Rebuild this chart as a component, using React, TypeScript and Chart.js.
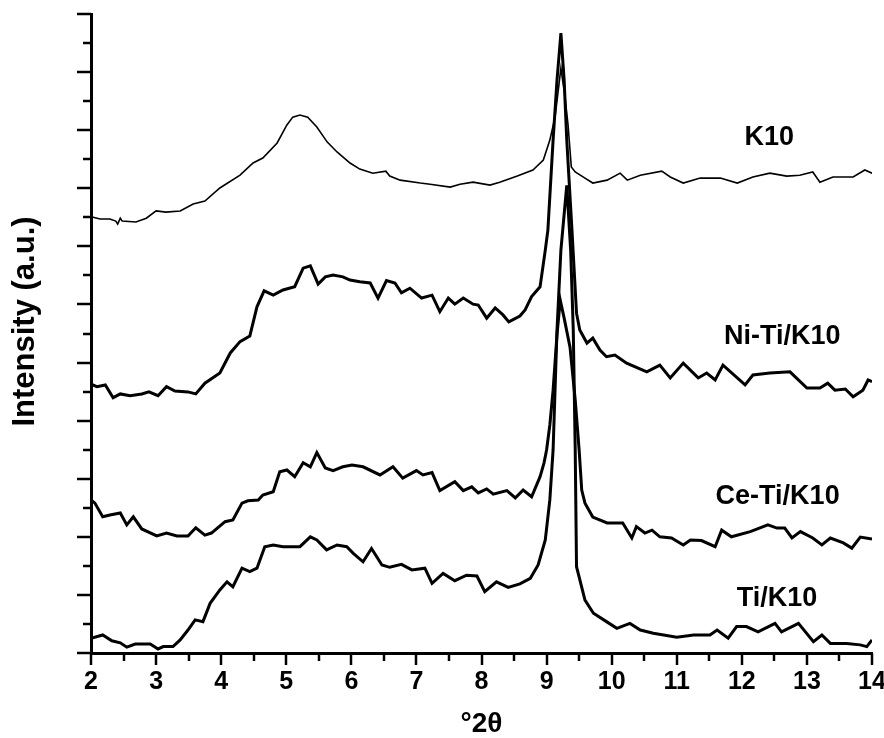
import React, { useEffect, useRef } from 'react';
import { Chart, registerables } from 'chart.js';

Chart.register(...registerables);

// ---- data (°2θ vs. stacked intensity, a.u.) ----
const k10X = [2.00,2.14,2.29,2.38,2.41,2.45,2.48,2.69,2.85,3.00,3.15,3.37,3.57,3.75,3.98,4.29,4.49,4.64,4.86,5.01,5.10,5.21,5.33,5.47,5.63,5.78,5.98,6.13,6.33,6.53,6.59,6.75,7.06,7.21,7.52,7.67,7.87,8.13,8.28,8.55,8.79,8.95,9.05,9.13,9.18,9.22,9.28,9.33,9.38,9.44,9.59,9.71,9.93,10.13,10.24,10.44,10.77,10.90,11.10,11.36,11.67,11.93,12.17,12.43,12.69,12.89,13.09,13.20,13.40,13.71,13.89,14.00];
const k10Y = [15.02,14.94,14.94,14.87,14.77,14.97,14.87,14.84,14.97,15.22,15.18,15.22,15.46,15.56,16.01,16.45,16.87,17.04,17.56,18.18,18.45,18.52,18.45,18.11,17.59,17.25,16.87,16.66,16.52,16.59,16.42,16.28,16.18,16.14,16.04,16.14,16.21,16.11,16.21,16.42,16.63,16.97,17.66,18.45,19.38,20.14,19.21,18.18,16.73,16.56,16.35,16.18,16.28,16.52,16.28,16.45,16.59,16.39,16.18,16.35,16.35,16.18,16.39,16.52,16.42,16.45,16.56,16.21,16.39,16.39,16.63,16.52];

const niTiX = [2.00,2.09,2.22,2.34,2.45,2.60,2.78,2.89,3.03,3.16,3.29,3.49,3.61,3.75,3.98,4.14,4.29,4.44,4.55,4.66,4.80,4.95,5.13,5.26,5.37,5.49,5.60,5.72,5.87,5.98,6.13,6.29,6.41,6.54,6.67,6.77,6.90,7.08,7.24,7.36,7.49,7.59,7.72,7.87,7.95,8.08,8.21,8.33,8.42,8.59,8.67,8.77,8.90,8.98,9.02,9.10,9.16,9.22,9.27,9.31,9.39,9.46,9.51,9.62,9.71,9.82,9.92,10.05,10.23,10.54,10.74,10.90,11.10,11.33,11.46,11.59,11.71,12.05,12.17,12.43,12.74,13.00,13.20,13.32,13.43,13.59,13.71,13.86,13.94,14.00];
const niTiY = [9.26,9.17,9.23,8.79,8.92,8.86,8.92,8.99,8.86,9.17,9.02,8.99,8.92,9.29,9.64,10.33,10.72,10.91,11.92,12.47,12.32,12.50,12.61,13.25,13.33,12.70,12.95,13.01,12.95,12.84,12.78,12.74,12.22,12.82,12.74,12.40,12.56,12.22,12.32,11.75,12.22,12.01,12.22,12.01,11.98,11.53,11.88,11.64,11.40,11.60,11.81,12.27,12.61,13.87,14.56,17.66,19.72,21.34,19.72,17.66,14.56,11.70,11.12,10.67,10.84,10.43,10.20,10.26,9.98,9.68,9.91,9.47,9.98,9.47,9.64,9.40,9.91,9.23,9.57,9.64,9.68,9.12,9.12,9.29,9.05,9.09,8.82,9.05,9.40,9.34];

const ceTiX = [2.00,2.06,2.18,2.29,2.45,2.55,2.65,2.78,3.01,3.16,3.32,3.49,3.61,3.75,3.85,4.06,4.18,4.32,4.41,4.57,4.64,4.80,4.90,5.01,5.13,5.26,5.37,5.47,5.60,5.72,5.87,6.01,6.18,6.44,6.64,6.79,7.00,7.10,7.24,7.36,7.59,7.72,7.85,7.95,8.08,8.18,8.39,8.52,8.64,8.77,8.90,8.96,9.00,9.05,9.10,9.16,9.21,9.27,9.36,9.44,9.50,9.54,9.59,9.71,9.93,10.17,10.31,10.38,10.51,10.62,10.74,10.92,11.10,11.21,11.38,11.59,11.69,11.84,12.13,12.40,12.54,12.66,12.77,12.90,13.09,13.23,13.36,13.56,13.69,13.82,14.00];
const ceTiY = [5.27,5.16,4.69,4.75,4.82,4.41,4.69,4.27,4.03,4.13,4.03,4.03,4.31,4.06,4.13,4.52,4.58,5.16,5.24,5.27,5.44,5.55,6.24,6.30,6.07,6.55,6.41,6.90,6.37,6.28,6.41,6.47,6.41,6.13,6.41,6.02,6.28,6.13,6.21,5.59,5.90,5.59,5.72,5.51,5.65,5.47,5.59,5.34,5.61,5.38,6.07,6.54,6.99,7.85,9.05,10.95,12.15,11.53,10.53,8.71,6.99,5.61,5.16,4.68,4.48,4.48,3.96,4.35,4.13,4.23,4.00,3.96,3.72,3.89,3.87,3.66,4.23,4.00,4.18,4.41,4.30,4.30,3.96,4.18,3.96,3.72,3.96,3.79,3.61,3.99,3.92];

const tiX = [2.00,2.18,2.32,2.45,2.55,2.68,2.91,3.03,3.11,3.26,3.37,3.49,3.60,3.72,3.83,3.98,4.09,4.18,4.32,4.44,4.55,4.67,4.80,4.95,5.21,5.37,5.47,5.62,5.78,5.93,6.03,6.18,6.31,6.47,6.59,6.77,6.93,7.13,7.24,7.41,7.59,7.77,7.93,8.05,8.23,8.41,8.59,8.75,8.87,8.98,9.05,9.10,9.16,9.22,9.31,9.37,9.41,9.44,9.46,9.59,9.72,9.92,10.08,10.28,10.44,10.64,11.00,11.26,11.51,11.62,11.79,11.92,12.07,12.25,12.51,12.61,12.87,13.10,13.23,13.36,13.61,13.82,13.92,14.00];
const tiY = [0.51,0.62,0.42,0.35,0.20,0.31,0.31,0.14,0.22,0.22,0.45,0.79,1.14,1.08,1.71,2.17,2.45,2.28,2.92,2.80,2.92,3.66,3.72,3.66,3.66,4.00,3.89,3.55,3.72,3.66,3.43,3.14,3.60,3.03,2.95,3.05,2.86,2.92,2.40,2.74,2.49,2.68,2.65,2.11,2.45,2.26,2.38,2.57,3.03,3.89,5.27,6.99,11.12,13.87,16.10,13.87,11.12,6.99,2.97,1.82,1.37,1.08,0.85,1.02,0.79,0.68,0.54,0.62,0.62,0.79,0.51,0.91,0.91,0.73,1.02,0.73,1.02,0.39,0.62,0.33,0.33,0.28,0.22,0.45];

const sampleNames = ['K10', 'Ni-Ti/K10', 'Ce-Ti/K10', 'Ti/K10'];
const labelX = [12.42, 12.62, 12.55, 12.54];
const labelY = [17.73, 10.89, 5.38, 1.86];

const xMin = 2;
const xMax = 14;
const yMin = 0;
const yMax = 22;
const xTitle = '°2θ';
const yTitle = 'Intensity (a.u.)';

const FONT = '"Liberation Sans", Arial, Helvetica, sans-serif';

const toPoints = (xs: number[], ys: number[]) => xs.map((x, i) => ({ x, y: ys[i] }));

const tickMarks = {
  id: 'tickMarks',
  afterDraw(chart: any) {
    const { ctx, chartArea, scales } = chart;
    const xs = scales.x;
    const ys = scales.y;
    ctx.save();
    ctx.strokeStyle = '#000';
    ctx.lineWidth = 2.5;
    for (let i = 0; i <= (xMax - xMin) * 2; i++) {
      const v = xMin + i * 0.5;
      const px = Math.round(xs.getPixelForValue(v));
      const major = i % 2 === 0;
      ctx.beginPath();
      ctx.moveTo(px, chartArea.bottom);
      ctx.lineTo(px, chartArea.bottom + (major ? 12 : 8));
      ctx.stroke();
    }
    for (let v = yMin; v <= yMax; v++) {
      const py = Math.round(ys.getPixelForValue(v));
      const major = v % 2 === 0;
      ctx.beginPath();
      ctx.moveTo(chartArea.left, py);
      ctx.lineTo(chartArea.left - (major ? 14 : 8), py);
      ctx.stroke();
    }
    ctx.restore();
  },
};

const textLayer = {
  id: 'textLayer',
  afterDraw(chart: any) {
    const { ctx, scales, chartArea } = chart;
    ctx.save();
    ctx.fillStyle = '#000';
    ctx.textAlign = 'center';
    ctx.textBaseline = 'middle';
    ctx.font = `bold 27px ${FONT}`;
    sampleNames.forEach((name, i) => {
      ctx.fillText(name, scales.x.getPixelForValue(labelX[i]), scales.y.getPixelForValue(labelY[i]));
    });
    // y axis title
    ctx.font = `bold 31px ${FONT}`;
    ctx.translate(25, (chartArea.top + chartArea.bottom) / 2 - 12);
    ctx.rotate(-Math.PI / 2);
    ctx.fillText(yTitle, 0, 0);
    ctx.restore();
  },
};

export default function App() {
  const canvasRef = useRef<HTMLCanvasElement | null>(null);

  useEffect(() => {
    const canvas = canvasRef.current;
    if (!canvas) return;
    Chart.defaults.font.family = FONT;
    const lineStyle = (w: number) => ({
      borderColor: '#000',
      borderWidth: w,
      pointRadius: 0,
      tension: 0,
      fill: false,
    });
    const chart = new Chart(canvas, {
      type: 'line',
      data: {
        datasets: [
          { label: sampleNames[0], data: toPoints(k10X, k10Y), ...lineStyle(1.6) },
          { label: sampleNames[1], data: toPoints(niTiX, niTiY), ...lineStyle(3) },
          { label: sampleNames[2], data: toPoints(ceTiX, ceTiY), ...lineStyle(3) },
          { label: sampleNames[3], data: toPoints(tiX, tiY), ...lineStyle(3) },
        ],
      },
      options: {
        animation: false,
        responsive: true,
        maintainAspectRatio: false,
        layout: { padding: { top: 14, right: 12, left: 0, bottom: 0 } },
        plugins: { legend: { display: false }, tooltip: { enabled: false } },
        scales: {
          x: {
            type: 'linear',
            min: xMin,
            max: xMax,
            afterFit: (s: any) => { s.height = 85; },
            grid: { display: false, drawTicks: false },
            border: { display: true, color: '#000', width: 3 },
            ticks: {
              stepSize: 1,
              padding: -2,
              autoSkip: false,
              maxRotation: 0,
              color: '#000',
              font: { family: FONT, size: 25, weight: 'bold', lineHeight: 2.52 },
            },
            title: {
              display: true,
              text: xTitle,
              color: '#000',
              font: { family: FONT, size: 28, weight: 'bold', lineHeight: 1 },
              padding: { top: 0, bottom: 0 },
            },
          },
          y: {
            type: 'linear',
            min: yMin,
            max: yMax,
            afterFit: (s: any) => { s.width = 91; },
            grid: { display: false, drawTicks: false },
            border: { display: true, color: '#000', width: 3 },
            ticks: { display: false, stepSize: 1 },
          },
        },
      } as any,
      plugins: [tickMarks, textLayer],
    });
    return () => chart.destroy();
  }, []);

  return (
    <div style={{ position: 'fixed', left: 0, top: 0, width: 884, height: 738, background: '#fff' }}>
      <canvas ref={canvasRef} />
    </div>
  );
}
